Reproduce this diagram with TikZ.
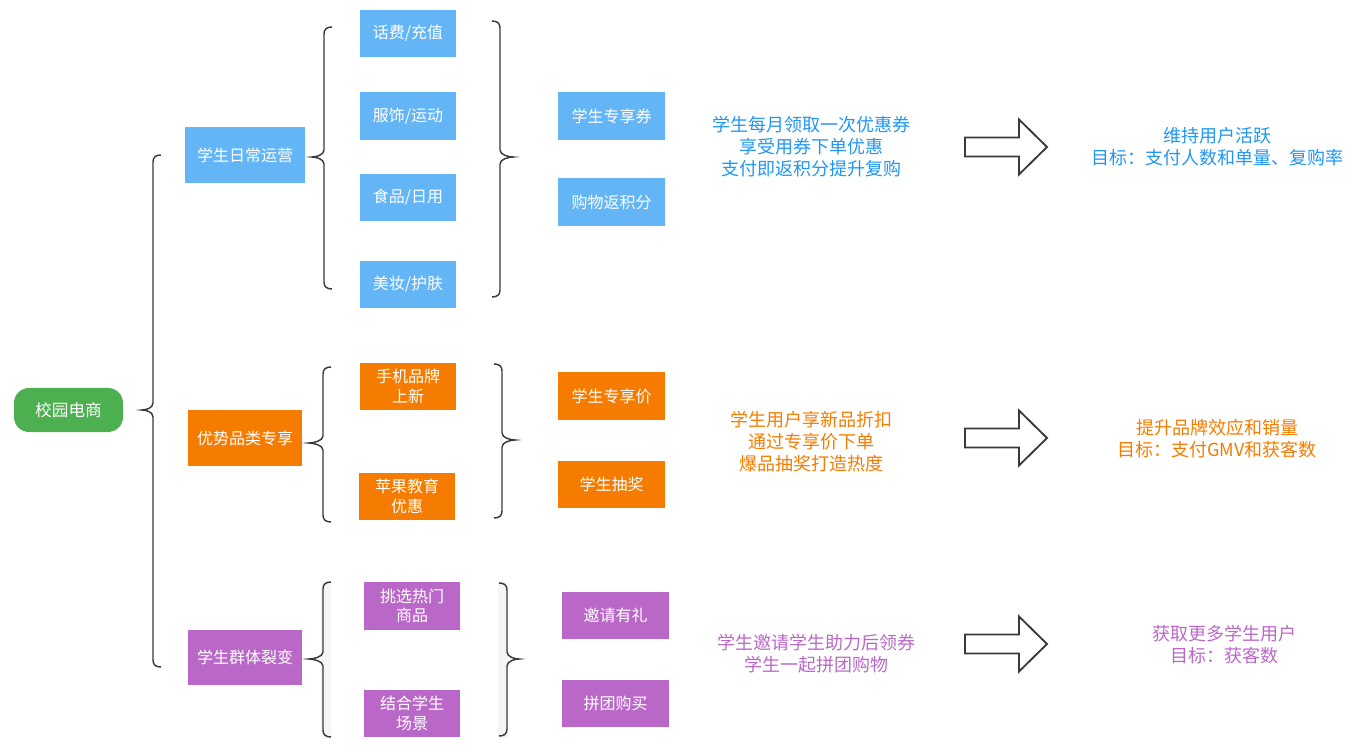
\documentclass[tikz,border=0pt]{standalone}
\usepackage{fontspec}
\setmainfont{Noto Sans CJK SC}
\definecolor{cgreen}{HTML}{4CAF50}
\definecolor{cblue}{HTML}{64B5F6}
\definecolor{corange}{HTML}{F57C00}
\definecolor{cpurple}{HTML}{BA68C8}
\definecolor{tblue}{HTML}{2196F3}
\definecolor{torange}{HTML}{F57C00}
\definecolor{tpurple}{HTML}{BA68C8}
\definecolor{cline}{HTML}{3A3A3A}
\newcommand{\lbrc}[5]{\draw[brc] (#1+8,#2) .. controls (#1+3,#2) and (#1,#2+2) .. (#1,#2+7) -- (#1,#4-7) .. controls (#1,#4-2) and (#5+4,#4) .. (#5,#4) .. controls (#5+4,#4) and (#1,#4+2) .. (#1,#4+7) -- (#1,#3-7) .. controls (#1,#3-2) and (#1+3,#3) .. (#1+8,#3);}
\newcommand{\rbrc}[5]{\draw[brc] (#1-8,#2) .. controls (#1-3,#2) and (#1,#2+2) .. (#1,#2+7) -- (#1,#4-7) .. controls (#1,#4-2) and (#5-4,#4) .. (#5,#4) .. controls (#5-4,#4) and (#1,#4+2) .. (#1,#4+7) -- (#1,#3-7) .. controls (#1,#3-2) and (#1-3,#3) .. (#1-8,#3);}
\newcommand{\bigarr}[1]{\draw[arr] (965,#1-9.5) -- (1019,#1-9.5) -- (1019,#1-27.5) -- (1047,#1) -- (1019,#1+27.5) -- (1019,#1+9.5) -- (965,#1+9.5) -- cycle;}
\tikzset{
  box/.style={rectangle, inner sep=0pt, align=center, text=white, font=\fontsize{12}{14.5}\selectfont},
  sz/.style 2 args={minimum width=#1*0.75pt, minimum height=#2*0.75pt},
  bbox/.style={box, fill=cblue},
  obox/.style={box, fill=corange},
  pbox/.style={box, fill=cpurple},
  note/.style={align=center, font=\fontsize{13.5}{16.5}\selectfont, inner sep=0pt},
  brc/.style={draw=cline, line width=1.1pt},
  arr/.style={draw=cline, line width=1.4pt, fill=white, line join=miter},
}
\begin{document}
\begin{tikzpicture}[x=0.75pt,y=-0.75pt]
\useasboundingbox (0,0) rectangle (1361,752);
% root
\node[box, sz={109}{44}, fill=cgreen, rounded corners=15*0.75pt, font=\fontsize{12.5}{15}\selectfont] (root) at (68.5,410) {校园电商};
% level 1
\node[bbox, sz={120}{56}] (n1) at (245,155) {学生日常运营};
\node[obox, sz={114}{56}] (n2) at (245,438) {优势品类专享};
\node[pbox, sz={114}{55}] (n3) at (245,657.5) {学生群体裂变};
% blue
\node[bbox, sz={96}{47}] (b1) at (408,33.5) {话费/充值};
\node[bbox, sz={96}{48}] (b2) at (408,116) {服饰/运动};
\node[bbox, sz={96}{47}] (b3) at (408,197.5) {食品/日用};
\node[bbox, sz={96}{47}] (b4) at (408,284.5) {美妆/护肤};
\node[bbox, sz={107}{48}] (b5) at (611.5,116) {学生专享券};
\node[bbox, sz={107}{48}] (b6) at (611.5,202) {购物返积分};
% orange
\node[obox, sz={96}{47}] (o1) at (408,386.5) {手机品牌\\上新};
\node[obox, sz={96}{47}] (o2) at (407,496.5) {苹果教育\\优惠};
\node[obox, sz={107}{48}] (o3) at (611.5,396) {学生专享价};
\node[obox, sz={107}{47}] (o4) at (611.5,484.5) {学生抽奖};
% purple brace backgrounds
\fill[gray!8] (321,581) rectangle (331,739);
\fill[gray!8] (498,582) rectangle (508,738);
\node[pbox, sz={96}{48}] (p1) at (412,606) {挑选热门\\商品};
\node[pbox, sz={96}{47}] (p2) at (412,713.5) {结合学生\\场景};
\node[pbox, sz={107}{47}] (p3) at (615.5,615.5) {邀请有礼};
\node[pbox, sz={107}{47}] (p4) at (615.5,703.5) {拼团购买};
% braces
\lbrc{153}{155}{667}{410}{142}
\lbrc{324}{27}{289}{157}{312}
\rbrc{500}{21}{297}{157}{513}
\lbrc{323}{367}{522}{443}{309}
\rbrc{502}{364}{518}{440}{515}
\lbrc{323}{582}{737}{659}{309}
\rbrc{507}{583}{736}{659}{519}
% notes
\node[note, text=tblue] (t1) at (811,147) {学生每月领取一次优惠券\\享受用券下单优惠\\支付即返积分提升复购};
\node[note, text=torange] (t2) at (811,442) {学生用户享新品折扣\\通过专享价下单\\爆品抽奖打造热度};
\node[note, text=tpurple] (t3) at (816,654) {学生邀请学生助力后领券\\学生一起拼团购物};
% arrows
\bigarr{147}
\bigarr{438}
\bigarr{644}
% results
\node[note, text=tblue] (r1) at (1217,147) {维持用户活跃\\目标：支付人数和单量、复购率};
\node[note, text=torange] (r2) at (1217,439) {提升品牌效应和销量\\目标：支付GMV和获客数};
\node[note, text=tpurple] (r3) at (1224,644.5) {获取更多学生用户\\目标：获客数};
\end{tikzpicture}
\end{document}
